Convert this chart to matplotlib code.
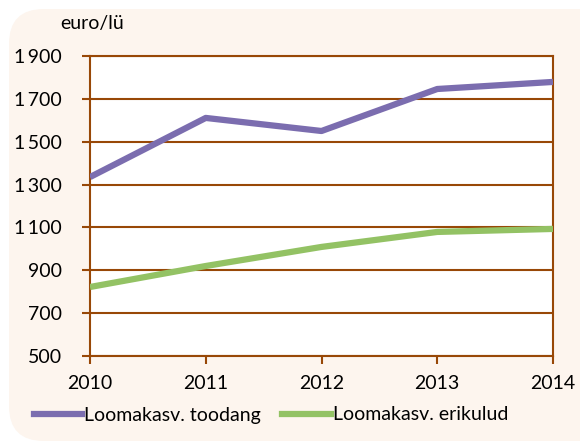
import matplotlib
matplotlib.use("Agg")
import matplotlib.pyplot as plt
from matplotlib.patches import FancyBboxPatch
from matplotlib.ticker import FuncFormatter
from matplotlib.lines import Line2D

years = [2010, 2011, 2012, 2013, 2014]
toodang = [1335, 1611, 1550, 1746, 1779]
erikulud = [822, 920, 1009, 1079, 1093]
series_names = ["Loomakasv. toodang", "Loomakasv. erikulud"]
yticks = [500, 700, 900, 1100, 1300, 1500, 1700, 1900]

plt.rcParams['font.family'] = ['Lato', 'DejaVu Sans']
FS = 14

W, H = 580, 442
fig = plt.figure(figsize=(W/100, H/100), dpi=100)
fig.patch.set_facecolor('white')
bg = FancyBboxPatch((9/W, 1/H), (W+40)/W, (H-10)/H,
                    boxstyle="round,pad=0,rounding_size=0.06",
                    transform=fig.transFigure, facecolor='#FDF5EE',
                    edgecolor='none', zorder=-5, mutation_aspect=W/H)
fig.patches.append(bg)

ax = fig.add_axes([90/W, 1-356/H, 463/W, 300/H])
ax.set_zorder(2)
ax.set_facecolor('white')
grid_c = '#984807'
ax.plot(years, toodang, color='#7B6DAF', lw=4.5, solid_capstyle='butt', zorder=3)
ax.plot(years, erikulud, color='#93C264', lw=4.5, solid_capstyle='butt', zorder=3)
ax.set_xlim(2010, 2014)
ax.set_ylim(500, 1900)
ax.set_yticks(yticks)
ax.set_xticks(years)
ax.yaxis.set_major_formatter(FuncFormatter(lambda v, p: f"{int(v):,}".replace(",", "\u2009")))
for y in yticks:
    ax.axhline(y, color=grid_c, lw=1.5, zorder=1)
for s in ax.spines.values():
    s.set_color(grid_c)
    s.set_linewidth(1.5)
ax.tick_params(axis='both', colors=grid_c, width=1.5, length=6, labelcolor='black', labelsize=FS)
ax.tick_params(axis='x', pad=8)
ax.tick_params(axis='y', pad=14)
fig.text(60/W, 1-24/H, "euro/lü", fontsize=FS, ha='left', va='center', zorder=3)

handles = [Line2D([], [], color='#7B6DAF', lw=4.5), Line2D([], [], color='#93C264', lw=4.5)]
leg = fig.legend(handles, series_names, loc='center', bbox_to_anchor=(271/W, 1-415/H),
           ncol=2, frameon=False, fontsize=FS, handlelength=2.5, handletextpad=0.1,
           columnspacing=1.1)
leg.set_zorder(3)
fig.savefig('out.png', dpi=100, facecolor=fig.get_facecolor())
